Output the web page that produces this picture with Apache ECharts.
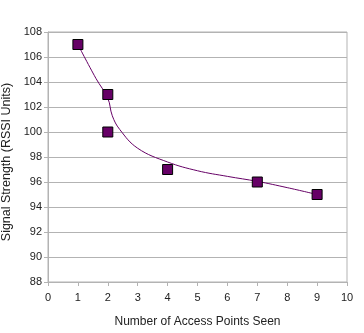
<!DOCTYPE html>
<html><head><meta charset="utf-8">
<script src="https://cdn.jsdelivr.net/npm/echarts@6/dist/echarts.min.js"></script>
<style>html,body{margin:0;padding:0;background:#fff}#c{width:364px;height:333px}</style>
</head><body><div id="c"></div>
<script>
const accessPoints = [1, 2, 2, 4, 7, 9];
const signalStrength = [107, 103, 100, 97, 96, 95];
const curveX = [1, 1.6, 2, 2.15, 2.4, 3, 4, 5, 6, 7, 8, 9];
const curveY = [107, 104.3, 102.7, 101.3, 100.2, 98.7, 97.6, 96.9, 96.45, 96.05, 95.55, 95.0];
const xTitle = 'Number of Access Points Seen';
const yTitle = 'Signal Strength (RSSI Units)';

const chart = echarts.init(document.getElementById('c'));
const font = 'Liberation Sans, Arial, sans-serif';
chart.setOption({
  animation: false,
  grid: { left: 48, right: 17, top: 32, bottom: 51, containLabel: false, outerBoundsMode: 'none', show: true, borderColor: '#b3b3b3', borderWidth: 1, backgroundColor: 'transparent' },
  xAxis: {
    type: 'value', min: 0, max: 10, interval: 1,
    name: xTitle, nameLocation: 'middle', nameGap: 34,
    nameTextStyle: { fontFamily: font, fontSize: 12, color: '#222' },
    axisLine: { lineStyle: { color: '#b3b3b3' } },
    axisTick: { show: true, length: 4, lineStyle: { color: '#b3b3b3' } },
    axisLabel: { fontFamily: font, fontSize: 11, color: '#222', margin: 10 },
    splitLine: { show: false }
  },
  yAxis: {
    type: 'value', min: 88, max: 108, interval: 2,
    name: yTitle, nameLocation: 'middle', nameGap: 30,
    nameTextStyle: { fontFamily: font, fontSize: 12.5, color: '#222', padding: [0, 10, 0, 0] },
    axisLine: { show: true, lineStyle: { color: '#b3b3b3' } },
    axisTick: { show: true, length: 4, lineStyle: { color: '#b3b3b3' } },
    axisLabel: { fontFamily: font, fontSize: 11, color: '#222', margin: 6 },
    splitLine: { show: true, lineStyle: { color: '#b3b3b3' } }
  },
  series: [
    {
      type: 'line', smooth: 0.4, showSymbol: false, symbol: 'none',
      data: curveX.map((x, i) => [x, curveY[i]]),
      lineStyle: { color: '#660066', width: 1 }, z: 2
    },
    {
      type: 'scatter', symbol: 'rect', symbolSize: 10,
      data: accessPoints.map((x, i) => [x, signalStrength[i]]),
      itemStyle: { color: '#660066', borderColor: '#000', borderWidth: 1, opacity: 1 }, z: 3
    }
  ]
});
</script></body></html>
